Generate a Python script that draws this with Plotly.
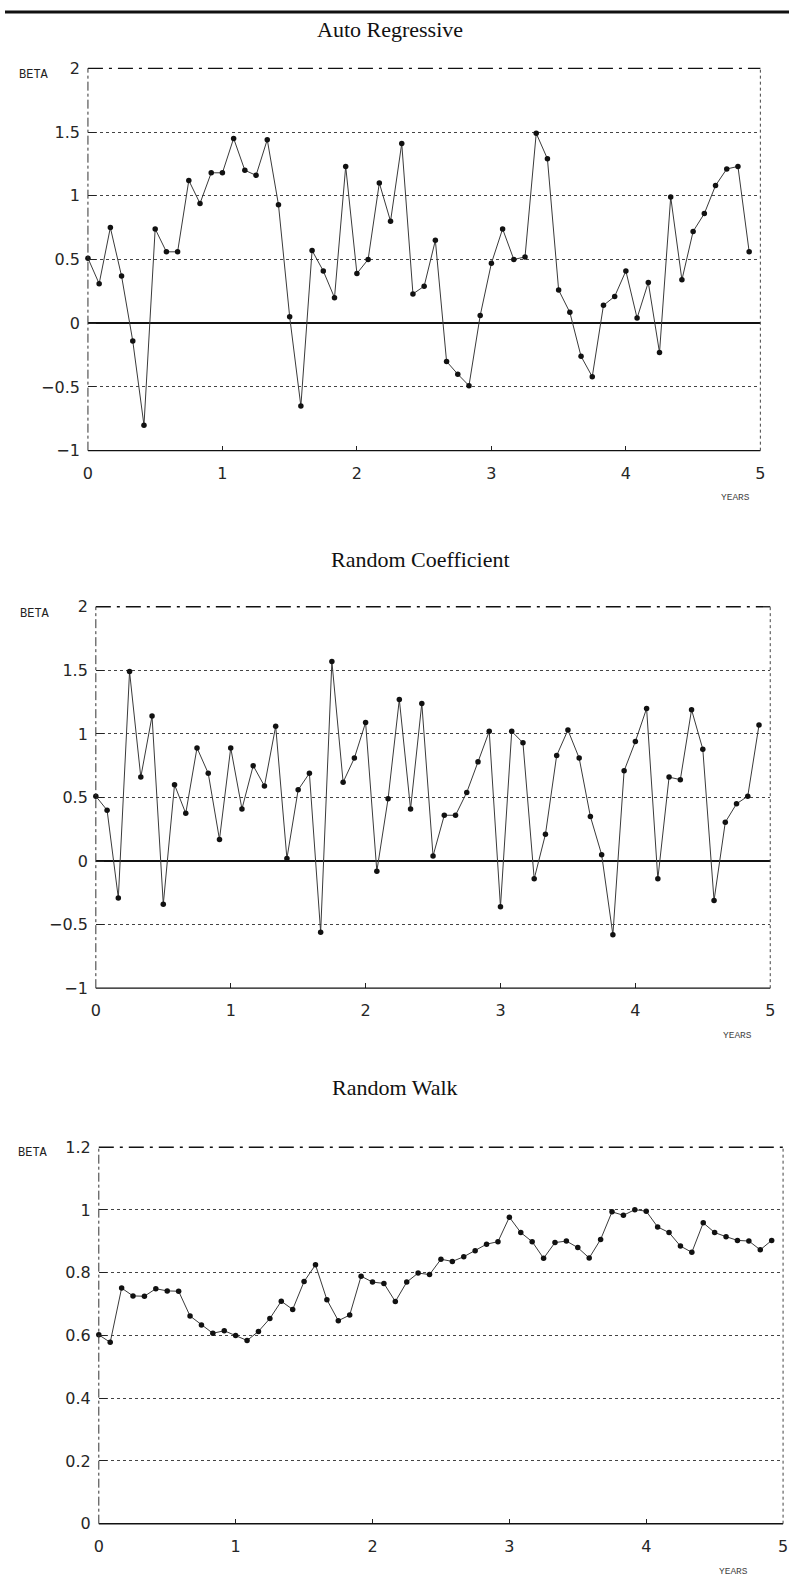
import plotly.graph_objects as go

W, H = 794, 1590

# ---------------- data ----------------
months = list(range(60))
years = [m / 12 for m in months]

ar_beta = [0.51, 0.31, 0.75, 0.37, -0.14, -0.80, 0.74, 0.56, 0.56, 1.12,
           0.94, 1.18, 1.18, 1.45, 1.20, 1.16, 1.44, 0.93, 0.05, -0.65,
           0.57, 0.41, 0.20, 1.23, 0.39, 0.50, 1.10, 0.80, 1.41, 0.23,
           0.29, 0.65, -0.30, -0.40, -0.49, 0.06, 0.47, 0.74, 0.50, 0.52,
           1.49, 1.29, 0.26, 0.085, -0.26, -0.42, 0.14, 0.21, 0.41, 0.04,
           0.32, -0.23, 0.99, 0.34, 0.72, 0.86, 1.08, 1.21, 1.23, 0.56]

rc_beta = [0.51, 0.40, -0.29, 1.49, 0.66, 1.14, -0.34, 0.60, 0.375, 0.89,
           0.69, 0.17, 0.89, 0.41, 0.75, 0.59, 1.06, 0.02, 0.56, 0.69,
           -0.56, 1.57, 0.62, 0.81, 1.09, -0.08, 0.49, 1.27, 0.41, 1.24,
           0.04, 0.36, 0.36, 0.54, 0.78, 1.02, -0.36, 1.02, 0.93, -0.14,
           0.21, 0.83, 1.03, 0.81, 0.35, 0.05, -0.58, 0.71, 0.94, 1.20,
           -0.14, 0.66, 0.64, 1.19, 0.88, -0.31, 0.305, 0.45, 0.51, 1.07]

rw_beta = [0.602, 0.578, 0.751, 0.726, 0.725, 0.749, 0.742, 0.741, 0.662, 0.633,
           0.607, 0.615, 0.600, 0.584, 0.613, 0.654, 0.709, 0.683, 0.772, 0.825,
           0.714, 0.647, 0.665, 0.789, 0.770, 0.766, 0.708, 0.770, 0.799, 0.794,
           0.843, 0.836, 0.851, 0.870, 0.891, 0.899, 0.977, 0.928, 0.899, 0.846,
           0.896, 0.901, 0.880, 0.847, 0.906, 0.994, 0.983, 1.001, 0.996, 0.946,
           0.928, 0.885, 0.865, 0.959, 0.928, 0.915, 0.903, 0.901, 0.873, 0.903]

titles = ["Auto Regressive", "Random Coefficient", "Random Walk"]
series = [ar_beta, rc_beta, rw_beta]
x_ticks = [0, 1, 2, 3, 4, 5]
y_ticks_ab = [-1, -0.5, 0, 0.5, 1, 1.5, 2]
y_ticks_rw = [0, 0.2, 0.4, 0.6, 0.8, 1, 1.2]
y_ticks = [y_ticks_ab, y_ticks_ab, y_ticks_rw]
y_ranges = [[-1, 2], [-1, 2], [0, 1.2]]
y_label = "BETA"
x_label = "YEARS"

# ---------------- layout geometry (page pixels) ----------------
boxes = [(84, 765, 60, 447), (92, 775, 605, 991), (95, 788, 1152, 1533)]  # left, right, top, bottom
title_pos = [(390, 21), (421, 557), (395, 1092)]
beta_pos = [(29, 67), (30, 612), (28, 1158)]
years_pos = [(740, 494), (742, 1039), (738, 1581)]


def px(x):
    return x / W


def py(y):
    return 1 - y / H


fig = go.Figure()
layout = dict(
    width=W, height=H, margin=dict(l=0, r=0, t=0, b=0),
    paper_bgcolor="white", plot_bgcolor="white", showlegend=False,
)
shapes = []
annotations = []

tick_font = dict(family="DejaVu Sans", size=16, color="#262626")

for i in range(3):
    L, R, T, B = boxes[i]
    xa = "xaxis" if i == 0 else f"xaxis{i+1}"
    ya = "yaxis" if i == 0 else f"yaxis{i+1}"
    xr = "x" if i == 0 else f"x{i+1}"
    yr = "y" if i == 0 else f"y{i+1}"
    fig.add_trace(go.Scatter(
        x=years, y=series[i], xaxis=xr, yaxis=yr, mode="lines+markers",
        line=dict(color="#3a3a3a", width=1),
        marker=dict(color="#111", size=5.5, symbol="circle"),
        cliponaxis=False,
    ))
    layout[xa] = dict(
        domain=[px(L), px(R)], anchor=yr, range=[0, 5],
        tickvals=x_ticks, ticks="inside", ticklen=5, tickcolor="#222", tickwidth=1,
        showgrid=False, zeroline=False, showline=False,
        tickfont=tick_font, ticklabelstandoff=11,
    )
    layout[ya] = dict(
        domain=[py(B), py(T)], anchor=xr, range=y_ranges[i],
        tickvals=y_ticks[i], ticks="inside", ticklen=8, tickcolor="#222", tickwidth=1.2,
        showgrid=True, gridcolor="#444", gridwidth=1, griddash="dot",
        zeroline=(i < 2), zerolinecolor="#111", zerolinewidth=1.6,
        showline=False, tickfont=tick_font, ticklabelstandoff=7,
    )
    # frame
    shapes.append(dict(type="line", xref="paper", yref="paper", x0=px(L), x1=px(R), y0=py(B), y1=py(B),
                       line=dict(color="#111", width=1.4)))
    shapes.append(dict(type="line", xref="paper", yref="paper", x0=px(L), x1=px(R), y0=py(T), y1=py(T),
                       line=dict(color="#111", width=1.3, dash="longdashdot")))
    shapes.append(dict(type="line", xref="paper", yref="paper", x0=px(L), x1=px(L), y0=py(B), y1=py(T),
                       line=dict(color="#333", width=1, dash="dashdot")))
    shapes.append(dict(type="line", xref="paper", yref="paper", x0=px(R), x1=px(R), y0=py(B), y1=py(T),
                       line=dict(color="#444", width=1, dash="dot")))
    # texts
    annotations.append(dict(text=titles[i], xref="paper", yref="paper", x=px(title_pos[i][0]),
                            y=py(title_pos[i][1]), xanchor="center", yanchor="middle", showarrow=False,
                            font=dict(family="Liberation Serif", size=22, color="#111")))
    annotations.append(dict(text=y_label, xref="paper", yref="paper", x=px(beta_pos[i][0]),
                            y=py(beta_pos[i][1]), xanchor="center", yanchor="middle", showarrow=False,
                            font=dict(family="Liberation Mono", size=12, color="#222")))
    annotations.append(dict(text=x_label, xref="paper", yref="paper", x=px(years_pos[i][0]),
                            y=py(years_pos[i][1]), xanchor="center", yanchor="middle", showarrow=False,
                            font=dict(family="Liberation Mono", size=9.5, color="#444")))

# thick rule at the very top of the page
shapes.append(dict(type="line", xref="paper", yref="paper", x0=0, x1=1, y0=py(3), y1=py(3),
                   line=dict(color="#111", width=3)))

layout["shapes"] = shapes
layout["annotations"] = annotations
fig.update_layout(**layout)

fig.write_html(
    "out.html",
    config={"displayModeBar": False},
    post_script="document.body.style.margin='0';document.body.style.overflow='hidden';",
)
